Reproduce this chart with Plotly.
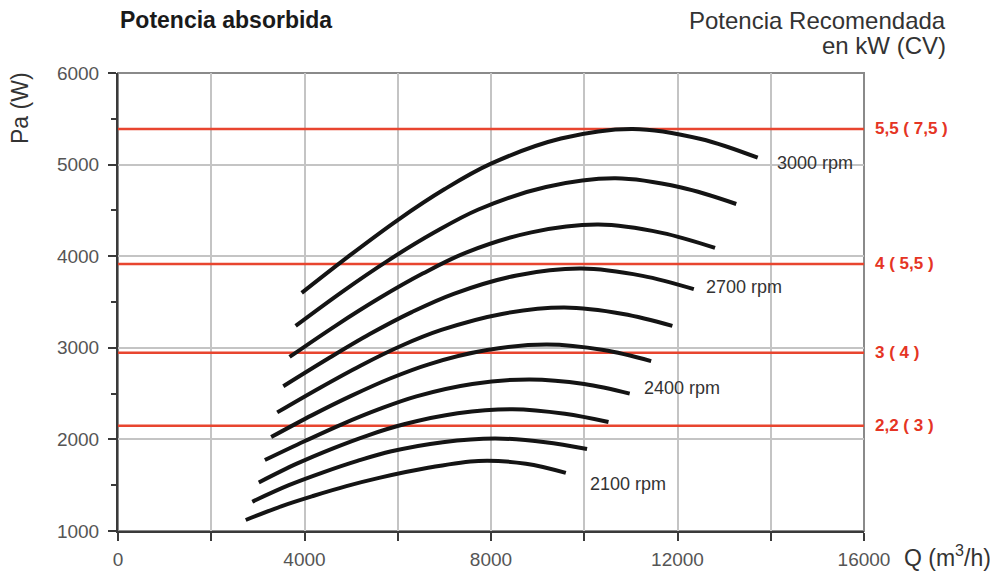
from plotly.graph_objects import Figure as plotly_Figure, Scatter as plotly_Scatter

# caudal Q (m3/h) y potencia absorbida Pa (W), una curva por rpm
q_3000 = [3940, 5000, 6000, 7000, 8000, 9500, 11040, 12500, 13720]
pa_3000 = [3600, 4020, 4395, 4730, 5010, 5285, 5390, 5280, 5075]
q_2900 = [3810, 4830, 5800, 6770, 7730, 9180, 10670, 12080, 13260]
pa_2900 = [3240, 3620, 3955, 4255, 4510, 4755, 4850, 4750, 4570]
q_2800 = [3680, 4665, 5600, 6535, 7465, 8865, 10305, 11665, 12805]
pa_2800 = [2900, 3240, 3540, 3810, 4040, 4260, 4345, 4255, 4090]
q_2700 = [3545, 4500, 5400, 6300, 7200, 8550, 9935, 11250, 12350]
pa_2700 = [2580, 2880, 3150, 3390, 3590, 3790, 3865, 3785, 3640]
q_2600 = [3415, 4335, 5200, 6065, 6935, 8235, 9570, 10835, 11890]
pa_2600 = [2295, 2565, 2805, 3020, 3195, 3370, 3440, 3370, 3240]
q_2500 = [3285, 4165, 5000, 5835, 6665, 7915, 9200, 10415, 11435]
pa_2500 = [2025, 2265, 2475, 2665, 2820, 2975, 3035, 2975, 2855]
q_2400 = [3150, 4000, 4800, 5600, 6400, 7600, 8830, 10000, 10975]
pa_2400 = [1775, 1980, 2165, 2330, 2470, 2605, 2655, 2605, 2500]
q_2300 = [3020, 3835, 4600, 5365, 6135, 7285, 8465, 9585, 10520]
pa_2300 = [1530, 1735, 1900, 2045, 2165, 2285, 2330, 2280, 2190]
q_2200 = [2880, 3665, 4400, 5135, 5865, 6965, 8095, 9165, 10060]
pa_2200 = [1320, 1500, 1640, 1765, 1870, 1970, 2010, 1970, 1895]
q_2100 = [2740, 3500, 4200, 4900, 5600, 6650, 7730, 8750, 9605]
pa_2100 = [1120, 1270, 1385, 1490, 1580, 1690, 1765, 1735, 1635]

# etiquetas de rpm junto a algunas curvas
rpm_labels = ["3000 rpm", "2700 rpm", "2400 rpm", "2100 rpm"]
rpm_label_q = [14100, 12560, 11230, 10070]
rpm_label_pa = [5020, 3665, 2560, 1515]

# potencia recomendada, kW (CV)
motor_pa = [5390, 3915, 2945, 2150]
motor_labels = ["5,5 ( 7,5 )", "4 ( 5,5 )", "3 ( 4 )", "2,2 ( 3 )"]

x_tick_values = [0, 4000, 8000, 12000, 16000]
x_tick_labels = ["0", "4000", "8000", "12000", "16000"]
y_tick_values = [1000, 2000, 3000, 4000, 5000, 6000]
y_tick_labels = ["1000", "2000", "3000", "4000", "5000", "6000"]

FONT = "Liberation Sans, Arial, sans-serif"
CURVE_COLOR = "#141414"
RED = "#e8452f"
# la pagina deja 8 px de margen en el body
PAGE_OFFSET = 8


def get_potencia_plotly_fig() -> plotly_Figure:
    curves = [
        (q_3000, pa_3000),
        (q_2900, pa_2900),
        (q_2800, pa_2800),
        (q_2700, pa_2700),
        (q_2600, pa_2600),
        (q_2500, pa_2500),
        (q_2400, pa_2400),
        (q_2300, pa_2300),
        (q_2200, pa_2200),
        (q_2100, pa_2100),
    ]
    fig = plotly_Figure()
    # lineas rojas de potencia de motor
    for x_pa in motor_pa:
        fig.add_trace(
            plotly_Scatter(
                x=[x_tick_values[0], x_tick_values[-1]],
                y=[x_pa, x_pa],
                mode="lines",
                line=dict(color=RED, width=2.5),
                hoverinfo="skip",
            )
        )
    for x_q, x_pa in curves:
        fig.add_trace(
            plotly_Scatter(
                x=x_q,
                y=x_pa,
                mode="lines",
                line=dict(color=CURVE_COLOR, width=4, shape="spline"),
            )
        )

    for x_text, x_q, x_pa in zip(rpm_labels, rpm_label_q, rpm_label_pa):
        fig.add_annotation(
            x=x_q,
            y=x_pa,
            text=x_text,
            showarrow=False,
            xanchor="left",
            yanchor="middle",
            font=dict(family=FONT, size=18, color="#333333"),
        )
    for x_text, x_pa in zip(motor_labels, motor_pa):
        fig.add_annotation(
            x=1,
            xref="paper",
            y=x_pa,
            text=f"<b>{x_text}</b>",
            showarrow=False,
            xanchor="left",
            yanchor="middle",
            xshift=9,
            font=dict(family=FONT, size=17, color="#e53424"),
        )

    fig.add_annotation(
        x=0, xref="paper", y=1, yref="paper", yshift=53,
        text="<b>Potencia absorbida</b>", showarrow=False,
        xanchor="left", yanchor="middle",
        font=dict(family=FONT, size=23, color="#1a1a1a"),
    )
    right_title_font = dict(family=FONT, size=24, color="#333333")
    fig.add_annotation(
        x=1, xref="paper", y=1, yref="paper", xshift=84, yshift=53,
        text="Potencia Recomendada", showarrow=False,
        xanchor="right", yanchor="middle", font=right_title_font,
    )
    fig.add_annotation(
        x=1, xref="paper", y=1, yref="paper", xshift=84, yshift=28,
        text="en kW (CV)", showarrow=False,
        xanchor="right", yanchor="middle", font=right_title_font,
    )
    fig.add_annotation(
        x=1, xref="paper", y=0, yref="paper", xshift=38, yshift=-25,
        text="Q (m<sup>3</sup>/h)", showarrow=False,
        xanchor="left", yanchor="middle",
        font=dict(family=FONT, size=23, color="#333333"),
    )
    fig.add_annotation(
        x=0, xref="paper", y=1, yref="paper", xshift=-98, yshift=-35,
        text="Pa (W)", textangle=-90, showarrow=False,
        xanchor="center", yanchor="middle",
        font=dict(family=FONT, size=23, color="#333333"),
    )

    # marco gris arriba y a la derecha
    fig.add_shape(
        type="rect", xref="paper", yref="paper", x0=0, x1=1, y0=0, y1=1,
        line=dict(color="#8a8a8a", width=2), layer="below",
    )

    tick_font = dict(family=FONT, size=19, color="#555555")
    fig.update_xaxes(
        range=[x_tick_values[0], x_tick_values[-1]],
        tickvals=x_tick_values,
        ticktext=x_tick_labels,
        automargin=False,
        showgrid=True,
        gridcolor="#c4c4c4",
        gridwidth=1.5,
        zeroline=False,
        showline=True,
        linecolor="#3a3a3a",
        linewidth=2,
        ticks="outside",
        ticklen=8,
        tickcolor="#3a3a3a",
        tickwidth=1.5,
        ticklabelstandoff=2,
        minor=dict(dtick=2000, showgrid=True, gridcolor="#c4c4c4", gridwidth=1.5,
                   ticks="outside", ticklen=8, tickcolor="#3a3a3a", tickwidth=1.5),
        tickfont=tick_font,
    )
    fig.update_yaxes(
        range=[y_tick_values[0], y_tick_values[-1]],
        tickvals=y_tick_values,
        ticktext=y_tick_labels,
        automargin=False,
        showgrid=True,
        gridcolor="#c4c4c4",
        gridwidth=1.5,
        zeroline=False,
        showline=True,
        linecolor="#3a3a3a",
        linewidth=2,
        ticks="outside",
        ticklen=8,
        tickcolor="#3a3a3a",
        tickwidth=1.5,
        ticklabelstandoff=5,
        minor=dict(dtick=500, showgrid=False, ticks="outside", ticklen=5,
                   tickcolor="#3a3a3a", tickwidth=1.5),
        tickfont=tick_font,
    )
    fig.update_layout(
        width=998 - PAGE_OFFSET,
        height=572 - PAGE_OFFSET,
        showlegend=False,
        plot_bgcolor="white",
        paper_bgcolor="white",
        margin=dict(l=118 - PAGE_OFFSET, r=134, t=73 - PAGE_OFFSET, b=41),
    )
    return fig


fig = get_potencia_plotly_fig()
fig.write_html("out.html")
